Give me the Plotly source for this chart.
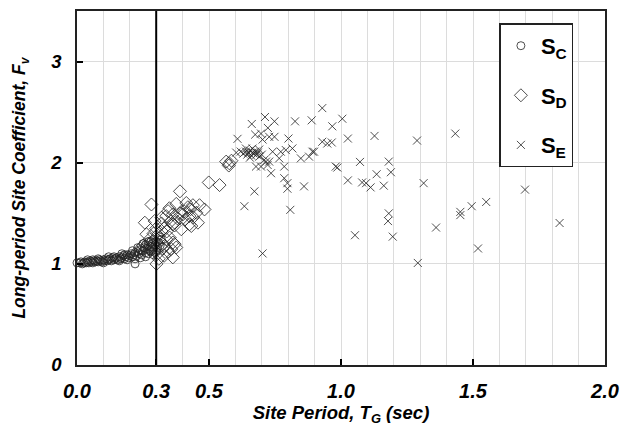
import plotly.graph_objects as go

# ---------------- data ----------------
sc_x = [0.00, 0.01, 0.015, 0.02, 0.025, 0.03, 0.035, 0.04, 0.045, 0.05, 0.055, 0.06, 0.065, 0.07,
        0.075, 0.08, 0.085, 0.09, 0.095, 0.10, 0.105, 0.11, 0.115, 0.12, 0.125, 0.13, 0.135, 0.14,
        0.145, 0.15, 0.155, 0.16, 0.165, 0.17, 0.175, 0.18, 0.185, 0.19, 0.195, 0.20, 0.205, 0.21,
        0.215, 0.22, 0.225, 0.23, 0.235, 0.24, 0.245, 0.25, 0.255, 0.26, 0.265, 0.27, 0.275, 0.28,
        0.285, 0.29, 0.295, 0.30, 0.305, 0.31, 0.315, 0.32,
        0.22, 0.24, 0.26, 0.27, 0.28, 0.29, 0.30, 0.25, 0.23, 0.21, 0.19, 0.17, 0.12, 0.10, 0.08,
        0.06, 0.04, 0.29, 0.31, 0.28, 0.22, 0.26, 0.27, 0.18, 0.16, 0.14]
sc_y = [1.01, 1.01, 1.02, 1.00, 1.01, 1.02, 1.01, 1.02, 1.01, 1.03, 1.02, 1.01, 1.03, 1.02,
        1.03, 1.02, 1.04, 1.03, 1.02, 1.04, 1.03, 1.05, 1.03, 1.04, 1.05, 1.03, 1.06, 1.04,
        1.05, 1.06, 1.04, 1.07, 1.05, 1.06, 1.08, 1.05, 1.07, 1.09, 1.06, 1.08, 1.10, 1.07,
        1.09, 1.11, 1.08, 1.12, 1.10, 1.14, 1.09, 1.13, 1.16, 1.11, 1.15, 1.18, 1.13, 1.17,
        1.20, 1.14, 1.19, 1.22, 1.16, 1.21, 1.18, 1.24,
        1.05, 1.06, 1.07, 1.10, 1.12, 1.24, 1.12, 1.20, 1.16, 1.13, 1.04, 1.10, 1.07, 1.01, 1.05,
        1.04, 1.04, 1.09, 1.27, 1.22, 1.00, 1.19, 1.22, 1.09, 1.03, 1.07]

sd_x = [0.282, 0.390, 0.499, 0.540, 0.565, 0.577, 0.575, 0.585,
        0.376, 0.414, 0.439, 0.464, 0.483, 0.345, 0.363, 0.401, 0.426, 0.452, 0.458, 0.420, 0.430,
        0.257, 0.294, 0.320, 0.363, 0.370, 0.395, 0.426, 0.433,
        0.363, 0.370, 0.338, 0.332, 0.363, 0.301, 0.263, 0.275, 0.288, 0.294, 0.351, 0.357, 0.376,
        0.320, 0.338, 0.310, 0.330, 0.340, 0.315, 0.325, 0.305, 0.310, 0.330, 0.345, 0.280, 0.270,
        0.250, 0.240, 0.290, 0.300, 0.320, 0.355, 0.380, 0.390, 0.405, 0.410, 0.440, 0.350, 0.370]
sd_y = [1.587, 1.717, 1.805, 1.779, 2.011, 1.994, 1.972, 2.020,
        1.593, 1.602, 1.580, 1.580, 1.538, 1.521, 1.489, 1.489, 1.472, 1.505, 1.407, 1.560, 1.540,
        1.407, 1.423, 1.325, 1.391, 1.407, 1.342, 1.391, 1.374,
        1.211, 1.195, 1.244, 1.178, 1.064, 1.000, 1.293, 1.244, 1.195, 1.129, 1.260, 1.146, 1.162,
        1.456, 1.472, 1.300, 1.350, 1.320, 1.220, 1.150, 1.100, 1.050, 1.080, 1.120, 1.150, 1.200,
        1.180, 1.150, 1.300, 1.350, 1.400, 1.420, 1.450, 1.500, 1.520, 1.440, 1.460, 1.550, 1.380]

se_x = [0.608, 0.662, 0.712, 0.748, 0.723, 0.675, 0.728, 0.748, 0.703, 0.826, 0.889, 0.801,
        0.816, 0.892, 0.678, 0.735, 0.785, 0.785, 0.797, 0.797, 0.860, 0.672, 0.634, 0.808,
        0.848, 0.879, 0.691, 0.709, 0.728, 0.722, 0.697, 0.772, 0.791, 0.766, 0.929, 0.967,
        0.929, 0.948, 0.741, 0.898, 0.980, 0.716, 1.005, 0.965, 1.026, 1.127, 1.288, 0.986,
        1.072, 1.181, 1.026, 1.080, 1.095, 1.112, 1.135, 1.162, 1.189, 1.313, 1.433, 1.697,
        1.181, 1.178, 1.196, 1.053, 1.360, 1.452, 1.452, 1.495, 1.550, 1.519, 1.291, 1.828,
        0.703, 0.697, 0.603,
        0.630, 0.640, 0.645, 0.650, 0.655, 0.660, 0.665, 0.670, 0.675, 0.680, 0.620, 0.685,
        0.655, 0.665, 0.640, 0.690, 0.700]
se_y = [2.236, 2.383, 2.452, 2.409, 2.344, 2.278, 2.256, 2.256, 2.229, 2.409, 2.419, 2.239,
        2.141, 2.109, 1.962, 1.896, 1.962, 1.847, 1.798, 1.743, 1.766, 1.717, 1.570, 1.534,
        2.043, 2.060, 2.060, 2.027, 2.011, 1.978, 1.962, 2.109, 2.125, 2.043, 2.540, 2.360,
        2.207, 2.190, 2.109, 2.109, 1.962, 2.011, 2.435, 2.200, 2.239, 2.265, 2.219, 1.952,
        2.008, 2.011, 1.825, 1.805, 1.798, 1.756, 1.886, 1.773, 1.906, 1.798, 2.288, 1.734,
        1.499, 1.423, 1.269, 1.283, 1.359, 1.514, 1.482, 1.570, 1.612, 1.152, 1.009, 1.404,
        1.103, 2.288, 2.100,
        2.090, 2.110, 2.080, 2.100, 2.120, 2.070, 2.100, 2.090, 2.110, 2.080, 2.110, 2.100,
        2.050, 2.140, 2.140, 2.130, 2.080]

tg_limit = 0.3
x_tickvals = [0.0, 0.3, 0.5, 1.0, 1.5, 2.0]
x_ticktext = ["0.0", "0.3", "0.5", "1.0", "1.5", "2.0"]
y_tickvals = [0, 1, 2, 3]
y_ticktext = ["0", "1", "2", "3"]

# ---------------- figure ----------------
FONT = "Liberation Sans, Arial, sans-serif"
mk_color = "rgba(35,35,35,0.8)"
mk_line = dict(color=mk_color, width=1)

fig = go.Figure()
fig.add_trace(go.Scatter(
    x=sc_x, y=sc_y, mode="markers", name="<b>S<sub>C</sub></b>", legendgroup="c",
    cliponaxis=False,
    marker=dict(symbol="circle-open", size=8, color=mk_color, line=mk_line)))
fig.add_trace(go.Scatter(
    x=sd_x, y=sd_y, mode="markers", name="<b>S<sub>D</sub></b>", legendgroup="d",
    cliponaxis=False,
    marker=dict(symbol="diamond-open", size=10, color=mk_color, line=mk_line)))
fig.add_trace(go.Scatter(
    x=se_x, y=se_y, mode="markers", name="<b>S<sub>E</sub></b>", legendgroup="e",
    cliponaxis=False,
    marker=dict(symbol="x-thin-open", size=8, color=mk_color, line=mk_line)))

fig.add_shape(type="line", xref="x", yref="y", x0=tg_limit, x1=tg_limit, y0=0, y1=3.5,
              line=dict(color="black", width=2), layer="above")

fig.update_layout(
    width=628, height=429,
    margin=dict(l=77, r=21, t=9, b=64),
    paper_bgcolor="white", plot_bgcolor="white",
    font=dict(family=FONT, color="black"),
    showlegend=True,
    legend=dict(
        x=0.8, y=0.965, xanchor="left", yanchor="top",
        bgcolor="white", bordercolor="#222", borderwidth=1.5,
        font=dict(size=22, family=FONT, color="black"),
        tracegroupgap=18, itemwidth=30,
    ),
    xaxis=dict(
        range=[0, 2.0], tickmode="array", tickvals=x_tickvals, ticktext=x_ticktext,
        showgrid=True, gridcolor="#dcdcdc", gridwidth=1,
        minor=dict(dtick=0.1, tick0=0, showgrid=True, gridcolor="#dcdcdc", gridwidth=1),
        ticks="inside", ticklen=6, tickcolor="black", tickwidth=1.5,
        showline=True, linecolor="#222", linewidth=1.5, mirror=True,
        tickfont=dict(size=20, family=FONT, weight="bold", style="italic"),
        ticklabelstandoff=7,
        title=dict(text="Site Period, T<sub>G</sub> (sec)",
                   font=dict(size=18.5, family=FONT, weight="bold", style="italic"),
                   standoff=4),
        zeroline=False,
    ),
    yaxis=dict(
        range=[0, 3.5], tickmode="array", tickvals=y_tickvals, ticktext=y_ticktext,
        showgrid=True, gridcolor="#dcdcdc", gridwidth=1,
        ticks="inside", ticklen=6, tickcolor="black", tickwidth=1.5,
        showline=True, linecolor="#222", linewidth=1.5, mirror=True,
        tickfont=dict(size=18.5, family=FONT, weight="bold", style="italic"),
        ticklabelstandoff=10,
        title=dict(text="Long-period Site Coefficient, F<sub>v</sub>",
                   font=dict(size=17.5, family=FONT, weight="bold", style="italic"),
                   standoff=20),
        zeroline=False,
    ),
)

fig.write_html("out.html")
